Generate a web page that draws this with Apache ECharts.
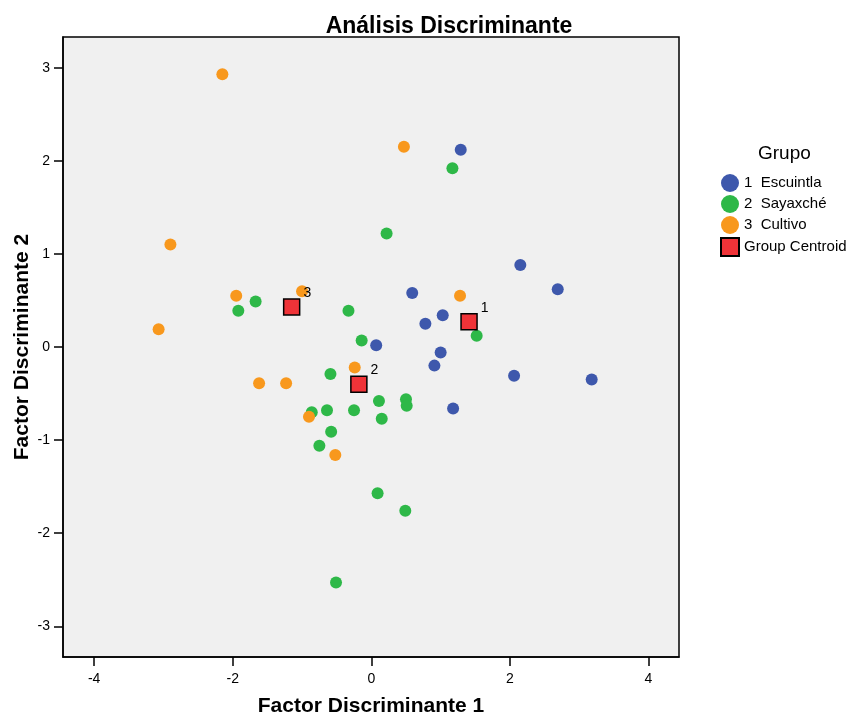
<!DOCTYPE html>
<html>
<head>
<meta charset="utf-8">
<script src="https://cdn.jsdelivr.net/npm/echarts@6/dist/echarts.min.js"></script>
<style>
  html, body { margin: 0; padding: 0; background: #fff; }
  #chart { width: 855px; height: 715px; }
</style>
</head>
<body>
<div id="chart"></div>
<script>
// puntos por grupo [factor 1, factor 2]
const escuintla = [
  [1.29, 2.12], [2.15, 0.88], [2.69, 0.62], [0.59, 0.58], [1.03, 0.34], [0.78, 0.25],
  [0.07, 0.02], [1.00, -0.06], [0.91, -0.20], [2.06, -0.31], [3.18, -0.35], [1.18, -0.66]
]
const sayaxche = [
  [1.17, 1.92], [0.22, 1.22], [-1.67, 0.49], [-1.92, 0.39], [-0.33, 0.39], [-0.14, 0.07],
  [1.52, 0.12], [-0.59, -0.29], [0.11, -0.58], [0.50, -0.56], [0.51, -0.63], [-0.86, -0.70],
  [-0.64, -0.68], [-0.25, -0.68], [0.15, -0.77], [-0.58, -0.91], [-0.75, -1.06],
  [0.09, -1.57], [0.49, -1.76], [-0.51, -2.53]
]
const cultivo = [
  [-2.15, 2.93], [0.47, 2.15], [-2.90, 1.10], [-1.95, 0.55], [-1.00, 0.60], [1.28, 0.55],
  [-3.07, 0.19], [-0.24, -0.22], [-1.62, -0.39], [-1.23, -0.39], [-0.90, -0.75], [-0.52, -1.16]
]
const centroids = [[1.41, 0.27, '1'], [-0.18, -0.40, '2'], [-1.15, 0.43, '3']]
const groupNames = ['1  Escuintla', '2  Sayaxché', '3  Cultivo', 'Group Centroid']
const xTicks = [-4, -2, 0, 2, 4]
const yTicks = [-3, -2, -1, 0, 1, 2, 3]

const font = 'Liberation Sans'
const myChart = echarts.init(document.getElementById('chart'))

const axisCommon = {
  type: 'value',
  nameLocation: 'middle',
  nameMoveOverlap: false,
  nameTextStyle: { fontFamily: font, fontSize: 21, fontWeight: 'bold', color: '#000' },
  axisLine: { show: true, onZero: false, lineStyle: { color: '#000', width: 1.5 } },
  axisTick: { show: true, length: 9, lineStyle: { color: '#000', width: 1.5 } },
  axisLabel: { fontFamily: font, fontSize: 14, color: '#000' },
  splitLine: { show: false }
}

myChart.setOption({
  animation: false,
  title: {
    text: 'Análisis Discriminante',
    left: 444,
    top: 10,
    textAlign: 'center',
    textStyle: { fontFamily: font, fontSize: 23, fontWeight: 'bold', color: '#000' }
  },
  grid: {
    left: 63,
    top: 37,
    width: 616,
    height: 620,
    containLabel: false,
    outerBoundsMode: 'none',
    show: true,
    backgroundColor: '#f0f0f0',
    borderColor: '#000',
    borderWidth: 1.5
  },
  legend: {
    orient: 'vertical',
    left: 715,
    top: 169,
    itemWidth: 18,
    itemHeight: 18,
    itemGap: 3,
    data: groupNames,
    textStyle: { fontFamily: font, fontSize: 15, color: '#000' }
  },
  graphic: [
    {
      type: 'text',
      left: 758,
      top: 144,
      style: { text: 'Grupo', fontFamily: font, fontSize: 19, fill: '#000' }
    }
  ],
  xAxis: Object.assign({}, axisCommon, {
    min: -4.45,
    max: 4.44,
    name: 'Factor Discriminante 1',
    nameGap: 39,
    axisTick: Object.assign({}, axisCommon.axisTick, { customValues: xTicks }),
    axisLabel: Object.assign({}, axisCommon.axisLabel, { customValues: xTicks, margin: 15 })
  }),
  yAxis: Object.assign({}, axisCommon, {
    min: -3.33,
    max: 3.33,
    name: 'Factor Discriminante 2',
    nameGap: 30,
    axisTick: Object.assign({}, axisCommon.axisTick, { customValues: yTicks }),
    axisLabel: Object.assign({}, axisCommon.axisLabel, { customValues: yTicks, margin: 13 })
  }),
  series: [
    {
      name: groupNames[0],
      type: 'scatter',
      symbolSize: 12,
      itemStyle: { color: '#3e58ac', opacity: 1 },
      data: escuintla
    },
    {
      name: groupNames[1],
      type: 'scatter',
      symbolSize: 12,
      itemStyle: { color: '#2eb848', opacity: 1 },
      data: sayaxche
    },
    {
      name: groupNames[2],
      type: 'scatter',
      symbolSize: 12,
      itemStyle: { color: '#f8981d', opacity: 1 },
      data: cultivo
    },
    {
      name: groupNames[3],
      type: 'scatter',
      symbol: 'rect',
      symbolSize: 16,
      z: 5,
      itemStyle: { color: '#ef3338', borderColor: '#000', borderWidth: 1.5, opacity: 1 },
      label: {
        show: true,
        position: 'right',
        distance: 3,
        offset: [0, -14],
        fontFamily: font,
        fontSize: 14,
        color: '#000',
        formatter: p => p.value[2]
      },
      data: centroids
    }
  ]
})
</script>
</body>
</html>
